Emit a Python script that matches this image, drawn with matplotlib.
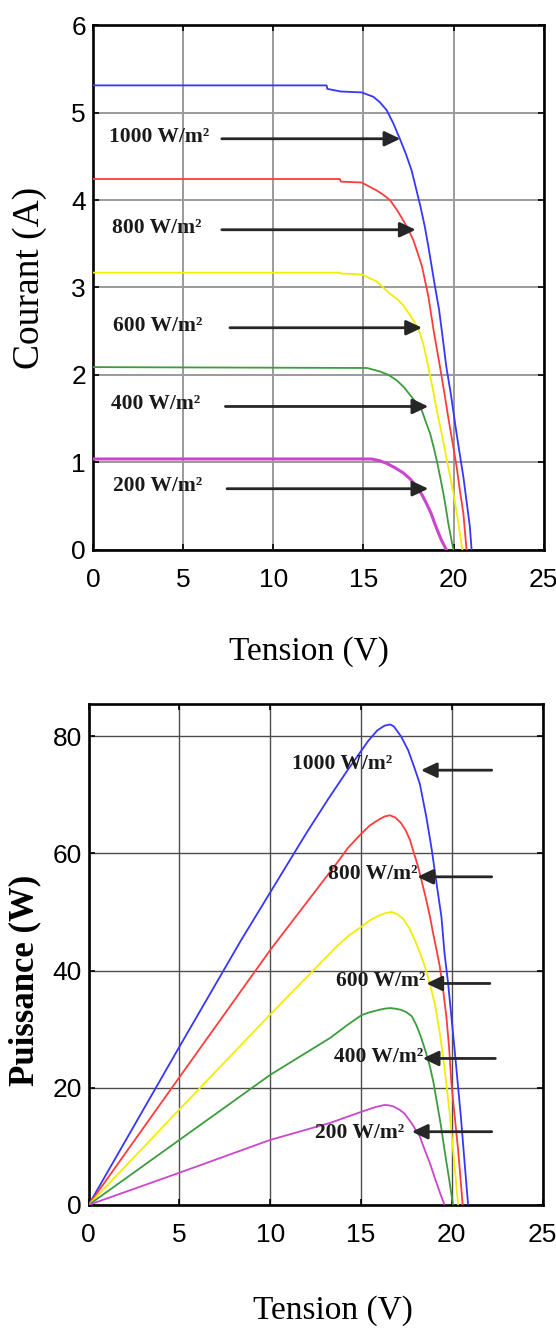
import matplotlib
import matplotlib.pyplot as plt

matplotlib.use("Agg")

# irradiance levels, top to bottom
LEVELS = ["1000 W/m²", "800 W/m²", "600 W/m²", "400 W/m²", "200 W/m²"]
COLORS = ["#3636ff", "#ff3c3c", "#f2ee00", "#3c9d3c", "#cc45cc"]

# I-V curves (tension V, courant A)
v_iv_1000 = [0, 12.96, 13.0, 13.75, 14.9, 15.55, 15.9, 16.28, 16.65, 17.02, 17.35,
             17.67, 18.17, 18.4, 18.6, 18.97, 19.2, 19.4, 19.6, 19.85, 20.08,
             20.3, 20.54, 20.9, 21.0]
i_iv_1000 = [5.31, 5.31, 5.27, 5.24, 5.23, 5.18, 5.12, 5.03, 4.88, 4.70, 4.53,
             4.34, 3.92, 3.70, 3.47, 3.01, 2.74, 2.42, 2.09, 1.78, 1.45,
             1.15, 0.84, 0.27, 0]
v_iv_800 = [0, 13.7, 13.75, 14.9, 15.73, 16.1, 16.47, 16.85, 17.2, 17.5, 17.77,
            18.0, 18.25, 18.6, 18.9, 19.25, 19.5, 19.7, 19.95, 20.17, 20.35,
            20.54, 20.72]
i_iv_800 = [4.24, 4.24, 4.21, 4.20, 4.11, 4.06, 4.00, 3.89, 3.77, 3.66, 3.54,
            3.40, 3.24, 2.90, 2.50, 2.09, 1.78, 1.52, 1.22, 0.95, 0.68,
            0.42, 0]
v_iv_600 = [0, 13.7, 13.75, 14.9, 15.73, 16.1, 16.47, 16.85, 17.2, 17.6, 18.05,
            18.35, 18.6, 18.85, 19.06, 19.3, 19.52, 19.75, 19.99, 20.25, 20.49]
i_iv_600 = [3.17, 3.17, 3.16, 3.15, 3.07, 3.00, 2.93, 2.87, 2.80, 2.68, 2.53,
            2.33, 2.09, 1.84, 1.60, 1.37, 1.14, 0.90, 0.65, 0.33, 0]
v_iv_400 = [0, 15.2, 15.92, 16.4, 16.84, 17.25, 17.67, 17.95, 18.23, 18.45, 18.7,
            18.9, 19.06, 19.25, 19.43, 19.58, 19.71, 19.86, 19.99]
i_iv_400 = [2.09, 2.08, 2.04, 2.00, 1.94, 1.86, 1.75, 1.68, 1.60, 1.47, 1.33,
            1.17, 1.03, 0.84, 0.65, 0.47, 0.30, 0.14, 0]
v_iv_200 = [0, 15.46, 15.9, 16.29, 16.75, 17.22, 17.6, 17.95, 18.25, 18.5, 18.75,
            18.96, 19.15, 19.33, 19.48, 19.61]
i_iv_200 = [1.04, 1.04, 1.02, 0.99, 0.94, 0.88, 0.81, 0.72, 0.63, 0.53, 0.42,
            0.30, 0.20, 0.11, 0.05, 0]

# P-V curves (tension V, puissance W)
v_pv_1000 = [0, 5, 8.4, 12, 13.2, 14.26, 14.9, 15.4, 15.9, 16.3, 16.6, 16.8, 17.2,
             17.6, 17.9, 18.24, 18.6, 18.9, 19.16, 19.43, 19.6, 19.8, 20.16, 20.5,
             20.7, 20.9]
p_pv_1000 = [0, 27.0, 45.2, 63.5, 69.3, 74.2, 77.0, 79.2, 81.0, 81.8, 82.0, 81.7,
             80.0, 77.6, 75.0, 71.9, 66.2, 60.6, 54.9, 49.2, 43.0, 37.8, 26.4, 15.1,
             7.5, 0]
v_pv_800 = [0, 5, 10, 13.66, 14.3, 15.03, 15.5, 16.0, 16.3, 16.6, 16.9, 17.2,
            17.45, 17.7, 17.9, 18.15, 18.35, 18.6, 18.8, 18.97, 19.15, 19.34,
            19.52, 19.7, 19.85, 19.98, 20.15, 20.35, 20.5, 20.6]
p_pv_800 = [0, 21.8, 43.5, 58.3, 61.0, 63.4, 64.8, 65.8, 66.3, 66.5, 66.1, 65.2,
            64.0, 62.3, 60.2, 57.7, 55.2, 52.0, 49.2, 46.4, 43.7, 40.7,
            36.8, 32.2, 27.0, 20.8, 15.5, 9.4, 3.8, 0]
v_pv_600 = [0, 5, 10, 13.66, 14.3, 15.03, 15.5, 16.0, 16.35, 16.7, 17.0, 17.3,
            17.65, 17.97, 18.4, 18.8, 19.1, 19.34, 19.52, 19.7, 19.9, 20.07,
            20.22, 20.35]
p_pv_600 = [0, 16.3, 32.5, 44.1, 45.9, 47.5, 48.6, 49.4, 49.8, 50.0, 49.6, 48.9,
            47.3, 45.2, 41.8, 37.8, 33.8, 29.3, 25.3, 20.8, 15.2, 9.4,
            4.5, 0]
v_pv_400 = [0, 5, 10, 13.3, 14.2, 15.03, 15.5, 16.0, 16.3, 16.6, 16.9, 17.2, 17.5,
            17.8, 18.05, 18.3, 18.55, 18.8, 19.0, 19.16, 19.4, 19.6, 19.85, 20.07]
p_pv_400 = [0, 11.1, 22.2, 28.5, 30.6, 32.4, 32.9, 33.3, 33.5, 33.6, 33.5, 33.3,
            32.9, 32.2, 30.7, 28.7, 26.3, 23.6, 20.8, 17.9, 13.6, 9.4, 4.5, 0]
v_pv_200 = [0, 5, 10, 13.3, 14.2, 15.03, 15.4, 15.8, 16.05, 16.3, 16.55, 16.8,
            17.1, 17.4, 17.8, 18.24, 18.5, 18.8, 19.1, 19.43, 19.52, 19.6]
p_pv_200 = [0, 5.5, 11.1, 14.0, 15.0, 15.9, 16.3, 16.7, 16.9, 17.06, 17.0, 16.8,
            16.3, 15.6, 13.9, 11.7, 9.5, 7.1, 4.3, 1.4, 0.7, 0]

# annotation anchors: label centre, arrow tail, arrow tip
iv_label_xy = [(3.65, 4.72), (3.55, 3.68), (3.6, 2.56), (3.5, 1.67), (3.6, 0.73)]
iv_arrow_tail = [(7.15, 4.70), (7.15, 3.66), (7.6, 2.54), (7.35, 1.64), (7.44, 0.70)]
iv_arrow_tip = [(17.05, 4.70), (17.9, 3.66), (18.25, 2.54), (18.6, 1.64), (18.6, 0.70)]

pv_label_xy = [(13.95, 75.3), (15.65, 56.5), (16.1, 38.2), (15.95, 25.3), (14.9, 12.3)]
pv_arrow_tail = [(22.2, 74.2), (22.2, 56.0), (22.1, 37.8), (22.4, 25.0), (22.2, 12.5)]
pv_arrow_tip = [(18.3, 74.2), (18.1, 56.0), (18.6, 37.8), (18.4, 25.0), (17.8, 12.5)]

TICK_FONT = "Liberation Sans"
SERIF = "Liberation Serif"


def style_axes(ax, grid_color, grid_lw):
    ax.grid(True, color=grid_color, linewidth=grid_lw)
    ax.set_axisbelow(True)
    for sp in ax.spines.values():
        sp.set_linewidth(1.9)
    ax.tick_params(direction="in", top=True, right=True, length=4, width=1.2,
                   labelsize=19)
    ax.tick_params(axis="x", pad=13)
    ax.tick_params(axis="y", pad=5)
    for lab in ax.get_xticklabels() + ax.get_yticklabels():
        lab.set_fontfamily(TICK_FONT)


def annotate_levels(ax, label_xy, tails, tips):
    for text, (lx, ly), tail, tip in zip(LEVELS, label_xy, tails, tips):
        ax.annotate("", xy=tip, xytext=tail,
                    arrowprops=dict(arrowstyle="-|>,head_length=0.95,head_width=0.45",
                                    color="#262626", lw=2.0,
                                    shrinkA=0, shrinkB=0), zorder=4)
        ax.text(lx, ly, text, ha="center", va="center", fontsize=15.5,
                fontweight="bold", family=SERIF, color="#1a1a1a", zorder=5)


fig = plt.figure(figsize=(5.56, 13.31), dpi=100)

# ---- I-V ----
ax1 = fig.add_axes([0.167, 0.5868, 0.811, 0.3944])
iv_sets = [(v_iv_1000, i_iv_1000), (v_iv_800, i_iv_800), (v_iv_600, i_iv_600),
           (v_iv_400, i_iv_400), (v_iv_200, i_iv_200)]
for (v, i), c in zip(iv_sets, COLORS):
    lw = 2.2 if c == COLORS[-1] else 1.3
    ax1.plot(v, i, color=c, linewidth=lw, zorder=3)
ax1.set_xlim(0, 25)
ax1.set_ylim(0, 6)
ax1.set_xticks([0, 5, 10, 15, 20, 25])
ax1.set_yticks([0, 1, 2, 3, 4, 5, 6])
style_axes(ax1, "#9a9a9a", 1.4)
annotate_levels(ax1, iv_label_xy, iv_arrow_tail, iv_arrow_tip)
ax1.set_xlabel("Tension (V)", fontsize=24, family=SERIF, va="center")
ax1.xaxis.set_label_coords(0.48, -0.194)
ax1.set_ylabel("Courant (A)", fontsize=27, family=SERIF, va="center")
ax1.yaxis.set_label_coords(-0.139, 0.519)

# ---- P-V ----
ax2 = fig.add_axes([0.1594, 0.0947, 0.8164, 0.3764])
pv_sets = [(v_pv_1000, p_pv_1000), (v_pv_800, p_pv_800), (v_pv_600, p_pv_600),
           (v_pv_400, p_pv_400), (v_pv_200, p_pv_200)]
for (v, p), c in zip(pv_sets, COLORS):
    ax2.plot(v, p, color=c, linewidth=1.3, zorder=3)
ax2.set_xlim(0, 25)
ax2.set_ylim(0, 85.5)
ax2.set_xticks([0, 5, 10, 15, 20, 25])
ax2.set_yticks([0, 20, 40, 60, 80])
style_axes(ax2, "#4d4d4d", 1.0)
annotate_levels(ax2, pv_label_xy, pv_arrow_tail, pv_arrow_tip)
ax2.set_xlabel("Tension (V)", fontsize=24, family=SERIF, va="center")
ax2.xaxis.set_label_coords(0.538, -0.21)
ax2.set_ylabel("Puissance (W)", fontsize=25, family=SERIF, fontweight="bold",
               va="center")
ax2.yaxis.set_label_coords(-0.14, 0.449)

fig.savefig("out.png", dpi=100)
plt.close(fig)
